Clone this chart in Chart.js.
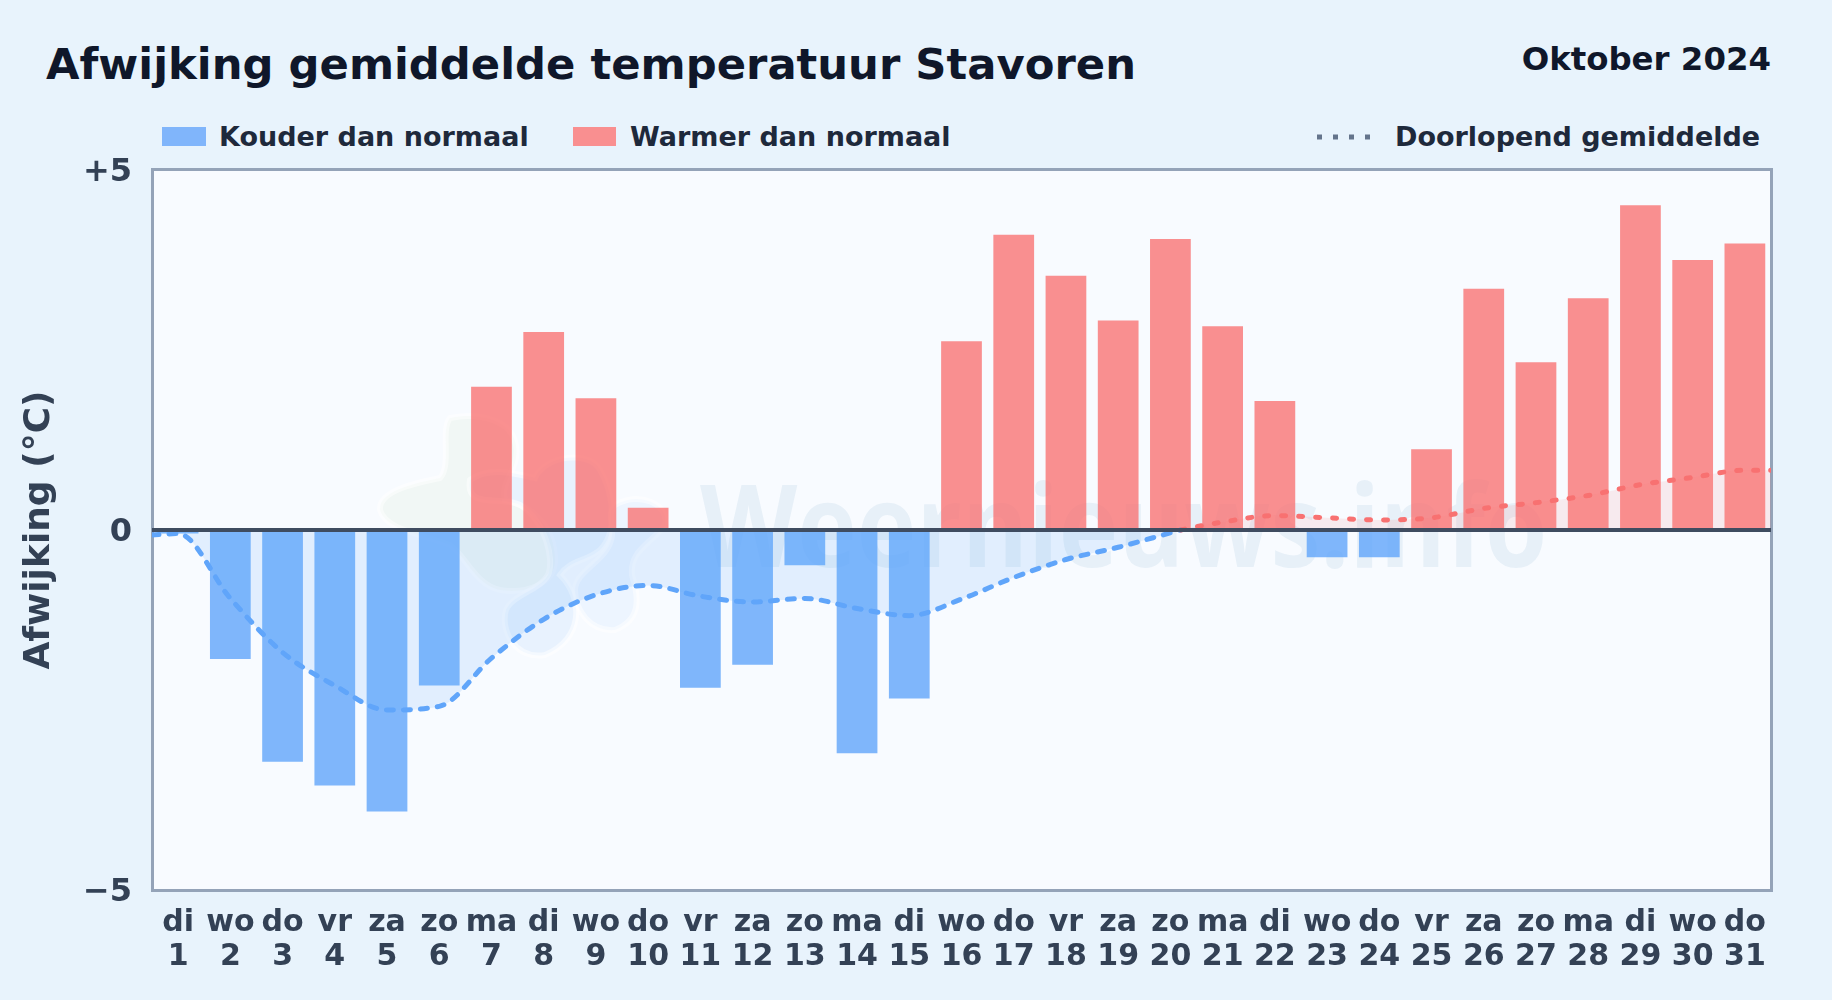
<!DOCTYPE html>
<html lang="nl">
<head>
<meta charset="utf-8">
<title>Afwijking gemiddelde temperatuur Stavoren</title>
<script src="https://cdn.jsdelivr.net/npm/chart.js@4"></script>
<style>
    html, body { margin: 0; padding: 0; }
    body { width: 1832px; height: 1000px; position: relative; overflow: hidden; background: #e8f3fc; font-family: "DejaVu Sans", sans-serif; font-weight: 700; }
    .abs { position: absolute; white-space: nowrap; }
    #title { left: 46px; top: 36px; font-size: 43.3px; line-height: 56px; color: #0f172a; }
    #period { right: 61px; top: 39px; font-size: 32.4px; line-height: 40px; color: #0f172a; }
    .legend-text { top: 120px; font-size: 27px; line-height: 34px; color: #1e293b; }
    .swatch { top: 127px; height: 19px; }
    #plot-bg { left: 151px; top: 168px; width: 1616px; height: 718px; background: #f8fbff; border: 3px solid #94a3b8; }
    #logo { left: 0; top: 0; }
    #watermark { left: 700px; top: 458px; font-family: "Open Sans", sans-serif; font-size: 115px; line-height: 130px; color: rgba(40,110,170,0.08); transform: scaleX(0.875); transform-origin: left center; }
    #chart { position: absolute; left: 0; top: 0; }
    #mean-key { left: 1317px; top: 134px; width: 56px; height: 6px; }
</style>
</head>
<body>
<div class="abs" id="plot-bg"></div>
<svg class="abs" id="logo" width="1832" height="1000">
    <g stroke="rgba(255,255,255,0.5)" stroke-width="6">
    <path fill="rgba(190,220,160,0.11)" d="M450 418 C480 412 512 420 516 445 C520 470 500 480 505 500 C530 505 555 525 555 560 C555 585 525 594 500 590 C475 585 465 555 450 545 C425 535 385 530 380 510 C378 490 420 482 440 478 C452 465 440 430 450 418 Z"/>
    <path fill="rgba(96,165,250,0.10)" d="M470 480 C490 465 520 475 535 478 C545 455 590 450 600 470 C612 490 620 530 600 550 C585 562 570 560 560 575 C585 600 582 640 545 655 C515 660 500 630 506 610 C512 595 540 590 548 575 C555 560 545 520 520 505 C500 495 465 510 470 480 Z"/>
    <path fill="rgba(96,165,250,0.07)" d="M615 505 C640 490 670 505 665 525 C650 545 630 550 632 575 C640 600 640 620 615 630 C590 632 575 610 575 590 C575 570 610 560 612 535 C612 520 608 512 615 505 Z"/>
    </g>
</svg>
<div class="abs" id="watermark">Weernieuws.info</div>
<div class="abs" id="title">Afwijking gemiddelde temperatuur Stavoren</div>
<div class="abs" id="period">Oktober 2024</div>
<div class="abs swatch" style="left:162px;width:44px;background:#80b5fb"></div>
<div class="abs legend-text" style="left:219px">Kouder dan normaal</div>
<div class="abs swatch" style="left:573px;width:43px;background:#f98f90"></div>
<div class="abs legend-text" style="left:630px">Warmer dan normaal</div>
<svg class="abs" id="mean-key"><line x1="0" y1="3" x2="56" y2="3" stroke="#64748b" stroke-width="5" stroke-dasharray="5 11"/></svg>
<div class="abs legend-text" style="left:1395px">Doorlopend gemiddelde</div>
<canvas id="chart" width="1832" height="1000"></canvas>

<script>
// Dagen van oktober 2024
const weekdays = ['di','wo','do','vr','za','zo','ma','di','wo','do','vr','za','zo','ma','di','wo','do','vr','za','zo','ma','di','wo','do','vr','za','zo','ma','di','wo','do'];
const days = [1,2,3,4,5,6,7,8,9,10,11,12,13,14,15,16,17,18,19,20,21,22,23,24,25,26,27,28,29,30,31];

// Afwijking per dag (graden C)
const deviation = [-0.05,-1.79,-3.22,-3.55,-3.91,-2.16,1.99,2.75,1.83,0.31,-2.19,-1.87,-0.49,-3.10,-2.34,2.62,4.10,3.53,2.91,4.04,2.83,1.79,-0.38,-0.38,1.12,3.35,2.33,3.22,4.51,3.75,3.98];

// Doorlopend gemiddelde, loopt door tot de randen van de plot en kruist de nullijn na dag 20
const meanDays = [0.5,1,2,3,4,5,6,7,8,9,10,11,12,13,14,15,16,17,18,19,20,20.2,21,22,23,24,25,26,27,28,29,30,31,31.5];
const meanValues = [-0.07,-0.05,-0.95,-1.70,-2.16,-2.50,-2.45,-1.78,-1.24,-0.90,-0.77,-0.92,-1.00,-0.95,-1.09,-1.19,-0.96,-0.66,-0.41,-0.24,-0.04,0,0.11,0.20,0.17,0.14,0.17,0.30,0.38,0.48,0.63,0.73,0.83,0.83];

const yTicks = [-5, 0, 5];
const yTickLabels = ['\u22125', '0', '+5'];

const blueBar = 'rgba(96,165,250,0.8)';
const redBar = 'rgba(248,113,113,0.78)';
const blueLine = '#60a5fa';
const redLine = '#f87171';

new Chart(document.getElementById('chart'), {
    data: {
        labels: days.map((d, i) => [weekdays[i], String(d)]),
        datasets: [
            {
                type: 'bar',
                order: 2,
                grouped: false,
                data: deviation,
                backgroundColor: deviation.map(v => v < 0 ? blueBar : redBar),
                barPercentage: 0.78,
                categoryPercentage: 1
            },
            {
                type: 'line',
                order: 1,
                xAxisID: 'xMean',
                data: meanDays.map((d, i) => ({ x: d, y: meanValues[i] })),
                borderWidth: 5,
                borderCapStyle: 'round',
                pointRadius: 0,
                cubicInterpolationMode: 'monotone',
                fill: { target: { value: 0 }, above: 'rgba(248,113,113,0.12)', below: 'rgba(96,165,250,0.15)' },
                segment: {
                    borderColor: c => (c.p0.parsed.y + c.p1.parsed.y) < 0 ? blueLine : redLine,
                    borderDash: c => (c.p0.parsed.y + c.p1.parsed.y) < 0 ? [7, 10] : [4, 13]
                }
            }
        ]
    },
    options: {
        responsive: false,
        animation: false,
        devicePixelRatio: 1,
        layout: { padding: { left: 0, right: 61, top: 170, bottom: 0 } },
        plugins: { legend: { display: false }, tooltip: { enabled: false } },
        scales: {
            x: {
                afterFit: s => { s.height = 110; },
                grid: { display: false },
                border: { display: false },
                ticks: { color: '#334155', font: { family: 'DejaVu Sans', size: 30, weight: 'bold', lineHeight: 1.13 }, padding: 8, maxRotation: 0, autoSkip: false }
            },
            xMean: { type: 'linear', display: false, min: 0.5, max: 31.5 },
            y: {
                min: -5,
                max: 5,
                afterFit: s => { s.width = 152; },
                afterBuildTicks: s => { s.ticks = yTicks.map(v => ({ value: v })); },
                title: { display: true, text: 'Afwijking (\u00b0C)', color: '#334155', font: { family: 'DejaVu Sans', size: 36, weight: 'bold' }, padding: { top: 18, bottom: 0 } },
                border: { display: false },
                grid: {
                    z: 1,
                    drawTicks: false,
                    color: c => c.tick.value === 0 ? '#3f4c60' : 'rgba(0,0,0,0)',
                    lineWidth: c => c.tick.value === 0 ? 4 : 0
                },
                ticks: {
                    color: '#334155',
                    font: { family: 'DejaVu Sans', size: 32, weight: 'bold' },
                    padding: 20,
                    labelOffset: 3,
                    callback: v => yTickLabels[yTicks.indexOf(v)]
                }
            }
        }
    }
});
</script>
</body>
</html>
